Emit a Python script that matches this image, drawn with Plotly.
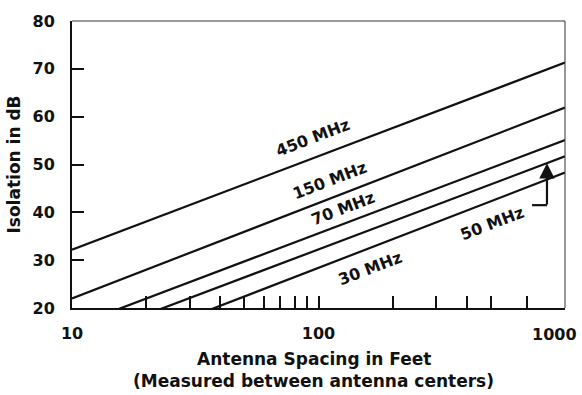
import numpy as np
import plotly.graph_objects as go

# Isolation vs. antenna spacing, one straight line (log-x) per band
bands = ["450 MHz", "150 MHz", "70 MHz", "50 MHz", "30 MHz"]
spacing_ft = [10, 1000]
iso_at_10ft = [32.2, 22.0, 16.1, 12.8, 8.5]
iso_at_1000ft = [71.3, 61.9, 55.1, 51.7, 48.3]

# label centres (spacing in feet, isolation in dB) for each band
label_x = [95, 111, 126, 506, 162]
label_y = [55.6, 46.6, 40.7, 37.6, 28.2]

x_tickvals = [10, 20, 30, 40, 50, 60, 70, 80, 90, 100, 200, 300, 400, 500, 700, 1000]
x_ticktext = ["10", "", "", "", "", "", "", "", "", "100", "", "", "", "", "", ""]
y_tickvals = [20, 30, 40, 50, 60, 70, 80]

# callout arrow for the 50 MHz band: foot of the arrow and its x position
arrow_foot_x = 735
arrow_x = 845
arrow_foot_y = 41.5

FONT = "DejaVu Sans"
BLACK = "#111111"

fig = go.Figure()
for name, a, b in zip(bands, iso_at_10ft, iso_at_1000ft):
    fig.add_trace(go.Scatter(x=spacing_ft, y=[a, b], mode="lines", name=name,
                             line=dict(color=BLACK, width=2.2), showlegend=False,
                             hoverinfo="skip"))

# arrow tip sits on the 50 MHz line
i50 = bands.index("50 MHz")
slope50 = (iso_at_1000ft[i50] - iso_at_10ft[i50]) / 2.0
tip_y = iso_at_10ft[i50] + slope50 * (np.log10(arrow_x) - 1.0)

fig.add_trace(go.Scatter(x=[arrow_foot_x, arrow_x], y=[arrow_foot_y, arrow_foot_y],
                         mode="lines", line=dict(color=BLACK, width=2.2),
                         showlegend=False, hoverinfo="skip"))

annotations = []
for name, lx, ly in zip(bands, label_x, label_y):
    annotations.append(dict(x=np.log10(lx), y=ly, xref="x", yref="y", text=name,
                            showarrow=False, textangle=-21,
                            font=dict(family=FONT, size=16, color=BLACK, weight="bold")))

annotations.append(dict(x=np.log10(arrow_x), y=tip_y, xref="x", yref="y",
                        ax=np.log10(arrow_x), ay=arrow_foot_y - 0.2, axref="x", ayref="y",
                        text="", showarrow=True, arrowhead=2, arrowsize=1.4,
                        arrowwidth=2.2, arrowcolor=BLACK, standoff=0))

# axis titles
annotations.append(dict(x=0, y=0.5, xref="paper", yref="paper", xshift=-59,
                        xanchor="center", yanchor="middle",
                        text="Isolation in dB", textangle=-90, showarrow=False,
                        font=dict(family=FONT, size=17, color=BLACK, weight="bold")))
annotations.append(dict(x=0.49, y=0, xref="paper", yref="paper", yshift=-51,
                        xanchor="center", yanchor="middle",
                        text="Antenna Spacing in Feet", showarrow=False,
                        font=dict(family=FONT, size=17, color=BLACK, weight="bold")))
annotations.append(dict(x=0.49, y=0, xref="paper", yref="paper", yshift=-73,
                        xanchor="center", yanchor="middle",
                        text="(Measured between antenna centers)", showarrow=False,
                        font=dict(family=FONT, size=17, color=BLACK, weight="bold")))
# last decade label, kept inside the page
annotations.append(dict(x=1, y=0, xref="paper", yref="paper", xanchor="right",
                        yanchor="middle", xshift=14, yshift=-26, text="1000",
                        showarrow=False,
                        font=dict(family=FONT, size=16, color=BLACK, weight="bold")))

tick_font = dict(family=FONT, size=16, color=BLACK, weight="bold")

fig.update_layout(
    width=582, height=395,
    margin=dict(l=72, r=17, t=15, b=87),
    paper_bgcolor="white", plot_bgcolor="white",
    annotations=annotations,
    shapes=[
        dict(type="line", xref="paper", yref="paper", x0=0, x1=1, y0=1, y1=1,
             line=dict(color="#333333", width=1)),
        dict(type="line", xref="paper", yref="paper", x0=1, x1=1, y0=0, y1=1,
             line=dict(color="#333333", width=1)),
    ],
    xaxis=dict(type="log", range=[1, 3], showgrid=False, zeroline=False,
               showline=True, linecolor=BLACK, linewidth=2,
               tickvals=x_tickvals, ticktext=x_ticktext,
               ticks="inside", ticklen=12, tickwidth=1.5, tickcolor=BLACK,
               ticklabelstandoff=10, tickfont=tick_font),
    yaxis=dict(range=[20, 80], showgrid=False, zeroline=False,
               showline=True, linecolor=BLACK, linewidth=2,
               tickvals=y_tickvals, ticks="inside", ticklen=12, tickwidth=1.5,
               tickcolor=BLACK, ticklabelstandoff=12, tickfont=tick_font),
)

fig.write_html("out.html")
